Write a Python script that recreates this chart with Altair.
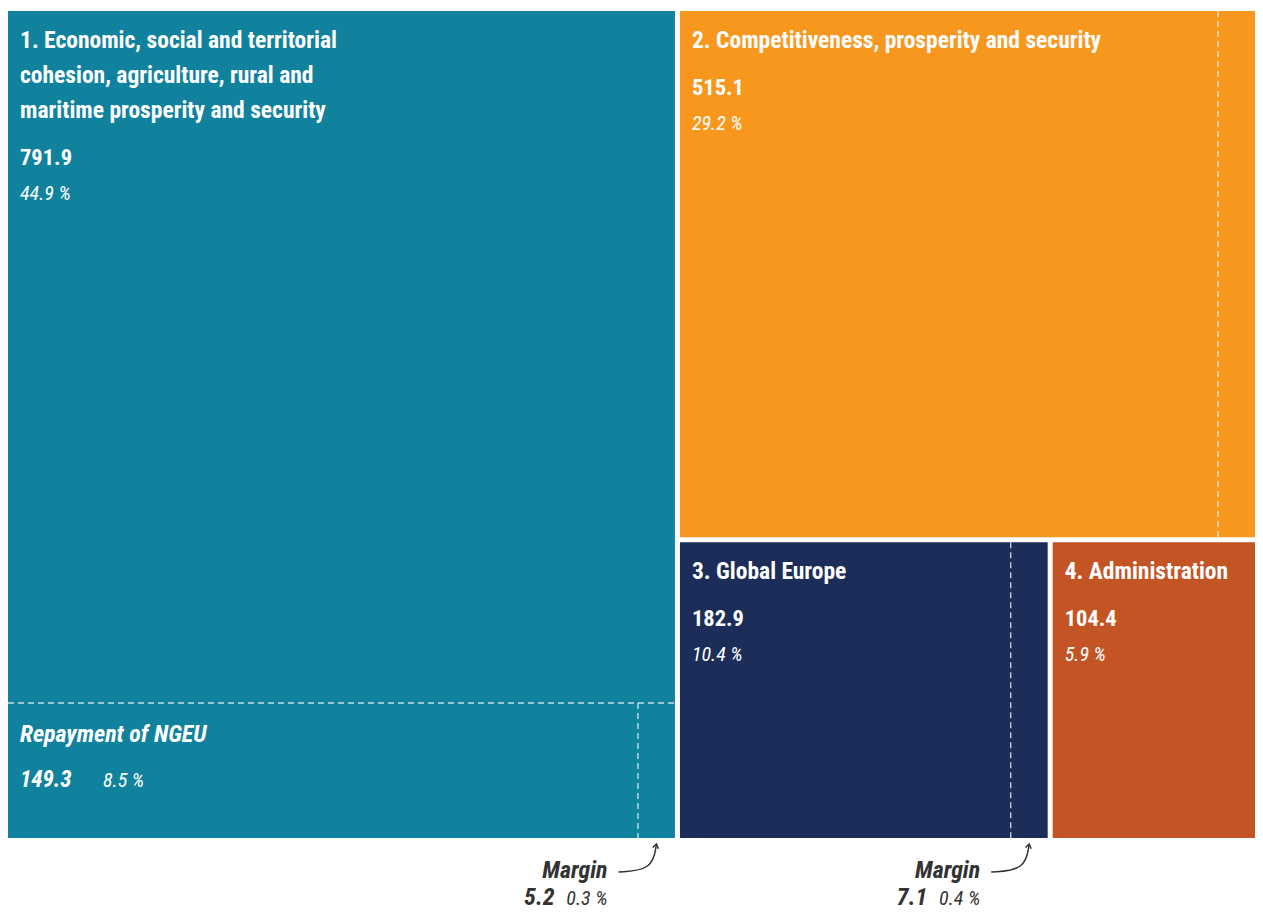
import altair as alt
import pandas as pd

# ---------------- data ----------------
heading_titles = [
    ["1. Economic, social and territorial", "cohesion, agriculture, rural and", "maritime prosperity and security"],
    ["2. Competitiveness, prosperity and security"],
    ["3. Global Europe"],
    ["4. Administration"],
]
heading_values = [791.9, 515.1, 182.9, 104.4]
heading_shares = ["44.9 %", "29.2 %", "10.4 %", "5.9 %"]
heading_colors = ["#10829e", "#f7971e", "#1b2d58", "#c35525"]
margin_values = [5.2, 7.0, 7.1, 0.0]       # heading 2 margin: label cut off, estimated
margin_shares = ["0.3 %", "", "0.4 %", ""]
margin_labelled = [True, False, True, False]
margin_word = "Margin"
ngeu_label = "Repayment of NGEU"
ngeu_value = 149.3
ngeu_share = "8.5 %"

# ---------------- layout (slice-and-dice treemap) ----------------
TW, TH = 1247, 827          # treemap size in plot units (1 unit = 1 px)
PH = 900                    # full plot height (treemap + annotations)
GAP = 5
MIN_STRIP = 37              # minimum displayed width of a margin strip
FONT = "Liberation Sans Narrow, Roboto Condensed, DejaVu Sans Condensed, Liberation Sans, sans-serif"

B = [heading_values[0] + ngeu_value + margin_values[0],
     heading_values[1] + margin_values[1],
     heading_values[2] + margin_values[2],
     heading_values[3] + margin_values[3]]
T = sum(B)
c1 = TW * B[0] / T
b2h = TH * B[1] / (B[1] + B[2] + B[3])
b3w = (TW - c1) * B[2] / (B[2] + B[3])
rects = [
    (0, c1 - GAP / 2, 0, TH),
    (c1 + GAP / 2, TW, 0, b2h - GAP / 2),
    (c1 + GAP / 2, c1 + b3w - GAP / 2, b2h + GAP / 2, TH),
    (c1 + b3w + GAP / 2, TW, b2h + GAP / 2, TH),
]
rect_df = pd.DataFrame(
    [dict(x=r[0], x2=r[1], y=r[2], y2=r[3], name=str(i), color=heading_colors[i])
     for i, r in enumerate(rects)]
)

# NGEU strip inside heading 1
r1 = rects[0]
ngeu_h = TH * (ngeu_value + margin_values[0]) / B[0]
ngeu_top = TH - ngeu_h

dashes = [dict(x=r1[0], x2=r1[1], y=ngeu_top, y2=ngeu_top)]
strip_centres = {}
for i in range(3):
    m = margin_values[i]
    if m <= 0:
        continue
    x0, x1, y0, y1 = rects[i]
    if i == 0:
        w = (x1 - x0) * m / (ngeu_value + m)
        y0 = ngeu_top
    else:
        w = (x1 - x0) * m / B[i]
    w = max(w, MIN_STRIP)
    dashes.append(dict(x=x1 - w, x2=x1 - w, y=y0, y2=y1))
    strip_centres[i] = x1 - w / 2
dash_df = pd.DataFrame(dashes)

# ---------------- texts ----------------
rows = []
PADX, T1, LS, VGAP, PGAP = 12, 37, 35, 47, 35
for i, (x0, x1, y0, y1) in enumerate(rects):
    for k, line in enumerate(heading_titles[i]):
        rows.append(dict(x=x0 + PADX, y=y0 + T1 + k * LS, text=line, size=23.5, g="bold"))
    yv = y0 + T1 + (len(heading_titles[i]) - 1) * LS + VGAP
    rows.append(dict(x=x0 + PADX, y=yv, text=f"{heading_values[i]:.1f}", size=22.5, g="bold"))
    rows.append(dict(x=x0 + PADX, y=yv + PGAP, text=heading_shares[i], size=20, g="ital"))

rows.append(dict(x=r1[0] + PADX, y=ngeu_top + 39, text=ngeu_label, size=24, g="boldital"))
rows.append(dict(x=r1[0] + PADX, y=ngeu_top + 84, text=f"{ngeu_value:.1f}", size=23, g="boldital"))
rows.append(dict(x=r1[0] + PADX + 83, y=ngeu_top + 84, text=ngeu_share, size=20, g="ital"))

arrow_rows, head_rows = [], []
for i, c in strip_centres.items():
    if not margin_labelled[i]:
        continue
    tr = c - 49
    yb = TH + 40
    rows.append(dict(x=tr, y=yb, text=margin_word, size=24, g="annbold"))
    rows.append(dict(x=tr - 53, y=TH + 67, text=f"{margin_values[i]:.1f}", size=24, g="annbold"))
    rows.append(dict(x=tr, y=TH + 67, text=margin_shares[i], size=20, g="annital"))
    pts = [(tr + 11, yb - 6), (c - 4, yb - 8), (c, TH + 6)]
    for k, (px, py) in enumerate(pts):
        arrow_rows.append(dict(x=px, y=py, o=k, a=str(i)))
    head_rows.append(dict(x=c, y=TH + 6))
text_df = pd.DataFrame(rows)
arrow_df = pd.DataFrame(arrow_rows)
head_df = pd.DataFrame(head_rows)

xs = alt.Scale(domain=[0, TW], range=[0, TW])
ys = alt.Scale(domain=[0, PH], range=[0, PH])

rect_layer = alt.Chart(rect_df).mark_rect().encode(
    x=alt.X("x:Q", scale=xs, axis=None), x2="x2:Q",
    y=alt.Y("y:Q", scale=ys, axis=None), y2="y2:Q",
    color=alt.Color("color:N", scale=None, legend=None),
)

dash_layer = alt.Chart(dash_df).mark_rule(
    color="white", strokeDash=[6, 4], strokeWidth=1.4, opacity=0.75
).encode(
    x=alt.X("x:Q", scale=xs, axis=None), x2="x2:Q",
    y=alt.Y("y:Q", scale=ys, axis=None), y2="y2:Q",
)


def text_layer(group, color, style, weight, align):
    return alt.Chart(text_df).transform_filter(alt.datum.g == group).mark_text(
        font=FONT, fontStyle=style, fontWeight=weight, color=color,
        align=align, baseline="alphabetic",
    ).encode(
        x=alt.X("x:Q", scale=xs, axis=None),
        y=alt.Y("y:Q", scale=ys, axis=None),
        text="text:N",
        size=alt.Size("size:Q", scale=None, legend=None),
    )


arrow_layer = alt.Chart(arrow_df).mark_line(
    interpolate="basis", color="#333333", strokeWidth=1.5
).encode(
    x=alt.X("x:Q", scale=xs, axis=None),
    y=alt.Y("y:Q", scale=ys, axis=None),
    detail="a:N", order="o:Q",
)

head_layer = alt.Chart(head_df).mark_point(
    shape="M-0.7,1L0,0L0.7,1", filled=False, color="#333333",
    strokeWidth=1.5, size=70, angle=12, opacity=1,
).encode(
    x=alt.X("x:Q", scale=xs, axis=None),
    y=alt.Y("y:Q", scale=ys, axis=None),
)

chart = alt.layer(
    rect_layer,
    dash_layer,
    text_layer("bold", "white", "normal", "bold", "left"),
    text_layer("ital", "white", "italic", "normal", "left"),
    text_layer("boldital", "white", "italic", "bold", "left"),
    text_layer("annbold", "#333333", "italic", "bold", "right"),
    text_layer("annital", "#333333", "italic", "normal", "right"),
    arrow_layer,
    head_layer,
).properties(
    width=TW, height=PH,
    autosize=alt.AutoSizeParams(type="none"),
    padding={"left": 0, "top": 3, "right": 0, "bottom": 0},
    background="white",
).configure_view(stroke=None)

chart.save("out.html", embed_options={"renderer": "svg", "actions": False})
